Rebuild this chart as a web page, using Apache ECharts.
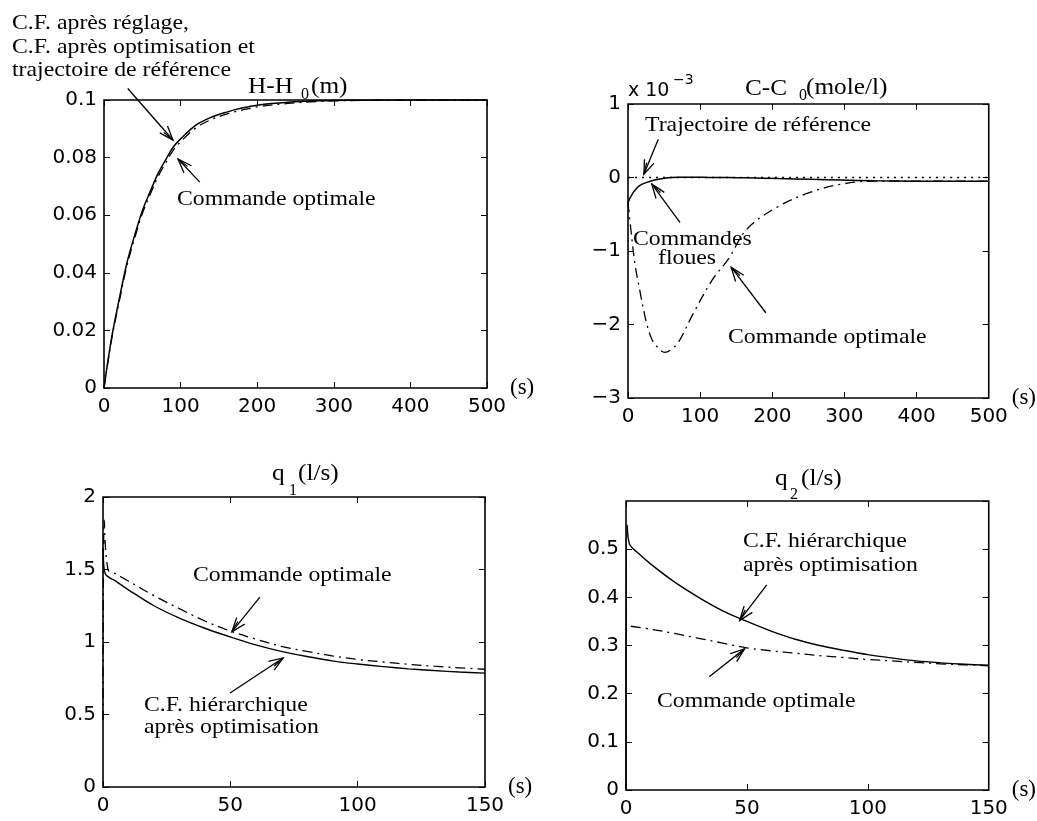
<!DOCTYPE html>
<html><head><meta charset="utf-8">
<script src="https://cdn.jsdelivr.net/npm/echarts@6/dist/echarts.min.js"></script>
<style>html,body{margin:0;padding:0;background:#fff}#c{width:1037px;height:821px}</style>
</head><body><div id="c"></div>
<script>
// ---- Panel 1 : H-H0 (m)
const hTime    = [0, 10, 20, 30, 40, 50, 60, 70, 80, 90, 100, 120, 140, 160, 180, 200, 240, 280, 320, 400, 500];
const hFuzzy   = [0, 0.0175, 0.0310, 0.0435, 0.0530, 0.0615, 0.0680, 0.0742, 0.0790, 0.0835, 0.0865, 0.0913, 0.0940, 0.0958, 0.0972, 0.0982, 0.0992, 0.0997, 0.0999, 0.1000, 0.1000];
const hOptimal = [0, 0.0170, 0.0302, 0.0425, 0.0520, 0.0605, 0.0670, 0.0731, 0.0779, 0.0824, 0.0855, 0.0903, 0.0932, 0.0951, 0.0965, 0.0976, 0.0988, 0.0995, 0.0998, 0.1000, 0.1000];
// ---- Panel 2 : C-C0 (mole/l) x 10^-3
const cTime      = [0, 5, 10, 16, 25, 33, 42, 51, 60, 70, 91, 117, 139, 165, 209, 253, 296, 340, 400, 500];
const cFuzzy     = [-0.34, -0.24, -0.17, -0.11, -0.07, -0.045, -0.025, -0.01, 0, 0.005, 0.005, 0, 0, -0.005, -0.015, -0.025, -0.035, -0.045, -0.05, -0.05];
const cReference = [0, 0, 0, 0, 0, 0, 0, 0, 0, 0, 0, 0, 0, 0, 0, 0, 0, 0, 0, 0];
const cOptimal   = [-0.34, -0.8, -1.2, -1.52, -1.95, -2.2, -2.32, -2.38, -2.34, -2.24, -1.84, -1.39, -1.11, -0.70, -0.39, -0.20, -0.09, -0.05, -0.05, -0.05];
// ---- Panel 3 : q1 (l/s)
const q1TimeFuzzy   = [0, 0.8, 5, 10, 20, 30, 40, 50, 60, 70, 80, 90, 100, 110, 120, 130, 140, 150];
const q1Fuzzy       = [1.65, 1.474, 1.42, 1.36, 1.25, 1.165, 1.095, 1.035, 0.98, 0.935, 0.90, 0.87, 0.848, 0.83, 0.815, 0.803, 0.793, 0.785];
const q1TimeOptimal = [0, 0.5, 2, 5, 10, 20, 30, 40, 50, 60, 70, 80, 90, 100, 110, 120, 130, 140, 150];
const q1Optimal     = [0.46, 1.84, 1.497, 1.47, 1.42, 1.32, 1.23, 1.145, 1.075, 1.02, 0.97, 0.935, 0.905, 0.88, 0.862, 0.846, 0.833, 0.822, 0.812];
// ---- Panel 4 : q2 (l/s)
const q2TimeFuzzy   = [0, 0.5, 1.5, 5, 10, 20, 30, 40, 50, 60, 70, 80, 90, 100, 110, 120, 130, 140, 150];
const q2Fuzzy       = [0, 0.55, 0.51, 0.492, 0.47, 0.432, 0.40, 0.372, 0.35, 0.33, 0.313, 0.30, 0.29, 0.281, 0.274, 0.268, 0.264, 0.261, 0.259];
const q2TimeOptimal = [2, 10, 20, 30, 40, 50, 60, 70, 80, 90, 100, 110, 120, 130, 140, 150];
const q2Optimal     = [0.34, 0.334, 0.325, 0.315, 0.305, 0.295, 0.289, 0.284, 0.279, 0.275, 0.271, 0.268, 0.265, 0.262, 0.26, 0.258];

const pairs = (t, v) => t.map((x, i) => [x, v[i]]);

const SERIF = '"Liberation Serif", "Times New Roman", serif';
const SANS = '"DejaVu Sans", sans-serif';
const DASHDOT = [10, 5, 2, 5];

const grids = [
  {left: 104, top: 100, width: 383, height: 288},
  {left: 628, top: 104, width: 380, height: 294},
  {left: 103, top: 497, width: 382, height: 290},
  {left: 626, top: 501, width: 379, height: 289}
];
const ranges = [
  {x: [0, 500, 100], y: [0, 0.1, 0.02]},
  {x: [0, 500, 100], y: [-3, 1, 1]},
  {x: [0, 150, 50], y: [0, 2, 0.5]},
  {x: [0, 150, 50], y: [0, 0.6, 0.1], hideMax: true}
];
const fmt = v => parseFloat(v.toFixed(6)).toString().replace('-', '\u2212');

const xAxis = [], yAxis = [];
ranges.forEach((r, i) => {
  const tick = {inside: true, length: 6, lineStyle: {color: '#000', width: 1}};
  ['bottom', 'top'].forEach((pos, k) => xAxis.push({
    gridIndex: i, type: 'value', position: pos,
    min: r.x[0], max: r.x[1], interval: r.x[2],
    axisLine: {show: false, onZero: false}, axisTick: tick, splitLine: {show: false},
    axisLabel: {show: k === 0, color: '#000', fontFamily: SANS, fontSize: 20, margin: 9, formatter: fmt},
    name: k === 0 ? '(s)' : '', nameLocation: 'end', nameGap: 4,
    nameTextStyle: {fontFamily: SERIF, fontSize: 23, color: '#000'}
  }));
  ['left', 'right'].forEach((pos, k) => yAxis.push({
    gridIndex: i, type: 'value', position: pos,
    min: r.y[0], max: r.y[1], interval: r.y[2],
    axisLine: {show: false, onZero: false}, axisTick: tick, splitLine: {show: false},
    axisLabel: {show: k === 0, color: '#000', fontFamily: SANS, fontSize: 20, margin: 7,
                formatter: fmt, showMaxLabel: !r.hideMax}
  }));
});

function line(name, g, data, type, width) {
  return {
    name, type: 'line', xAxisIndex: 2 * g, yAxisIndex: 2 * g, data,
    showSymbol: false, smooth: 0.35, animation: false, clip: true,
    lineStyle: {color: '#000', width: width || 1.3, type: type || 'solid'}
  };
}

const series = [
  line('C.F. après réglage / optimisation', 0, pairs(hTime, hFuzzy), 'solid', 1.5),
  line('Commande optimale', 0, pairs(hTime, hOptimal), DASHDOT),
  line('Trajectoire de référence', 1, pairs(cTime, cReference), [2, 5]),
  line('Commandes floues', 1, pairs(cTime, cFuzzy), 'solid', 1.5),
  line('Commande optimale', 1, pairs(cTime, cOptimal), DASHDOT),
  line('C.F. hiérarchique après optimisation', 2, pairs(q1TimeFuzzy, q1Fuzzy), 'solid', 1.4),
  line('Commande optimale', 2, pairs(q1TimeOptimal, q1Optimal), DASHDOT),
  line('C.F. hiérarchique après optimisation', 3, pairs(q2TimeFuzzy, q2Fuzzy), 'solid', 1.4),
  line('Commande optimale', 3, pairs(q2TimeOptimal, q2Optimal), DASHDOT)
];
const firstSeries = [0, 2, 5, 7];

const chart = echarts.init(document.getElementById('c'));
chart.setOption({
  backgroundColor: '#fff', animation: false,
  grid: grids.map(g => Object.assign({show: true, borderColor: '#000', borderWidth: 1.6, backgroundColor: 'transparent'}, g)),
  xAxis, yAxis, series
});

// ---- annotation arrows (data coordinates: tail -> head)
const arrows = [
  {g: 0, from: [31, 0.104], to: [90, 0.0861]},
  {g: 0, from: [125, 0.0715], to: [96.6, 0.0795]},
  {g: 1, from: [42, 0.52], to: [22, 0.045]},
  {g: 1, from: [72, -0.61], to: [33, -0.09]},
  {g: 1, from: [191, -1.84], to: [143, -1.22]},
  {g: 2, from: [61.6, 1.31], to: [50.6, 1.07]},
  {g: 2, from: [49.9, 0.648], to: [70.7, 0.89]},
  {g: 3, from: [58.2, 0.426], to: [47, 0.352]},
  {g: 3, from: [34.4, 0.235], to: [49, 0.293]}
];

const graphic = [];
arrows.forEach(a => {
  const p0 = chart.convertToPixel({seriesIndex: firstSeries[a.g]}, a.from);
  const p1 = chart.convertToPixel({seriesIndex: firstSeries[a.g]}, a.to);
  const ang = Math.atan2(p1[1] - p0[1], p1[0] - p0[0]);
  const L = 15, A = 0.35;
  const b1 = [p1[0] - L * Math.cos(ang - A), p1[1] - L * Math.sin(ang - A)];
  const b2 = [p1[0] - L * Math.cos(ang + A), p1[1] - L * Math.sin(ang + A)];
  const b3 = [p1[0] - L * 0.8 * Math.cos(ang - A * 0.45), p1[1] - L * 0.8 * Math.sin(ang - A * 0.45)];
  graphic.push({type: 'line', silent: true, shape: {x1: p0[0], y1: p0[1], x2: p1[0], y2: p1[1]},
                style: {stroke: '#000', lineWidth: 1.3}});
  graphic.push({type: 'polyline', silent: true, shape: {points: [b1, p1, b2]},
                style: {stroke: '#000', lineWidth: 1.3, fill: null}});
  graphic.push({type: 'polyline', silent: true, shape: {points: [b3, p1]},
                style: {stroke: '#000', lineWidth: 1.2, fill: null}});
});

function txt(x, y, s, size, family, sx) {
  graphic.push({type: 'text', x, y, scaleX: sx || 1, silent: true,
    style: {text: s, fontSize: size, fontFamily: family || SERIF, fill: '#000', align: 'left', verticalAlign: 'middle'}});
}
const SX = 1.08;
// annotations
txt(12, 23, 'C.F. après réglage,', 22, SERIF, SX);
txt(12, 47, 'C.F. après optimisation et', 22, SERIF, SX);
txt(12, 70, 'trajectoire de référence', 22, SERIF, SX);
txt(177, 199, 'Commande optimale', 22, SERIF, SX);
txt(645, 125, 'Trajectoire de référence', 22, SERIF, SX);
txt(633, 239, 'Commandes', 22, SERIF, SX);
txt(658, 258, 'floues', 22, SERIF, SX);
txt(728, 337, 'Commande optimale', 22, SERIF, SX);
txt(193, 575, 'Commande optimale', 22, SERIF, SX);
txt(144, 705, 'C.F. hiérarchique', 22, SERIF, SX);
txt(144, 727, 'après optimisation', 22, SERIF, SX);
txt(743, 541, 'C.F. hiérarchique', 22, SERIF, SX);
txt(743, 565, 'après optimisation', 22, SERIF, SX);
txt(657, 701, 'Commande optimale', 22, SERIF, SX);
// titles
txt(248, 87, 'H-H', 23, SERIF, 1.1);
txt(301, 95, '0', 16, SERIF);
txt(311, 87, '(m)', 23, SERIF, 1.1);
txt(628, 91, 'x 10', 19, SANS);
txt(673, 80, '\u22123', 14, SANS);
txt(745, 89, 'C-C', 23, SERIF, 1.1);
txt(799, 96, '0', 16, SERIF);
txt(806, 88, '(mole/l)', 23, SERIF, 1.1);
txt(272, 474, 'q', 23, SERIF, 1.1);
txt(289, 491, '1', 16, SERIF);
txt(298, 474, '(l/s)', 23, SERIF, 1.1);
txt(775, 479, 'q', 23, SERIF, 1.1);
txt(790, 495, '2', 16, SERIF);
txt(801, 479, '(l/s)', 23, SERIF, 1.1);

chart.setOption({graphic});
</script></body></html>
